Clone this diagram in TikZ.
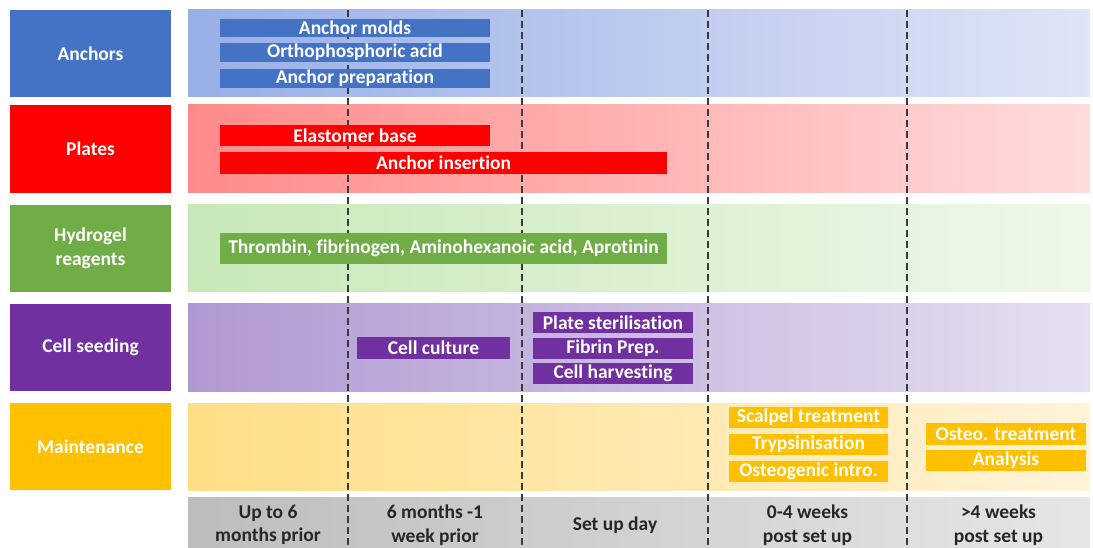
\documentclass[tikz,border=0pt]{standalone}
\usepackage{fontspec}
\setmainfont{Carlito}[Ligatures=NoCommon]

\definecolor{anchorblue}{HTML}{4472C4}
\definecolor{platered}{HTML}{FF0000}
\definecolor{gelgreen}{HTML}{70AD47}
\definecolor{seedpurple}{HTML}{7030A0}
\definecolor{maintyellow}{HTML}{FFC000}
\definecolor{labelgrey}{HTML}{262626}
\definecolor{dashgrey}{HTML}{3A3A3A}
% band shades, left and right
\definecolor{blueL}{HTML}{98AFE7}\definecolor{blueR}{HTML}{DFE5F6}
\definecolor{redL}{HTML}{FF8A8A}\definecolor{redR}{HTML}{FFDCDC}
\definecolor{greenL}{HTML}{C8E8B8}\definecolor{greenR}{HTML}{EEF8EA}
\definecolor{purpleL}{HTML}{B099D2}\definecolor{purpleR}{HTML}{E6DFF0}
\definecolor{yellowL}{HTML}{FFDE85}\definecolor{yellowR}{HTML}{FFF3D8}
\definecolor{greyL}{HTML}{BDBDBD}\definecolor{greyR}{HTML}{E6E6E6}

\begin{document}
\begin{tikzpicture}[x=1pt,y=-1pt,
    txt/.style={font=\bfseries\fontsize{19.5}{23.5}\selectfont},
    catbox/.style={txt, fill=#1, text=white, minimum width=161pt, minimum height=87pt, inner sep=0pt, align=center},
    band/.style={left color=#1L, right color=#1R, minimum width=902pt, minimum height=87pt, inner sep=0pt},
    taskbar/.style={txt, fill=#1, text=white, minimum height=20pt, inner sep=0pt},
    period/.style={txt, text=labelgrey, align=center},
    divider/.style={dashgrey, line width=1.2pt, dash pattern=on 7pt off 4pt}]
    \useasboundingbox (0,0) rectangle (1093,548);

    % categories
    \node[catbox=anchorblue] (anchors) at (90.5,53.5) {Anchors};
    \node[catbox=platered, minimum height=88pt] (plates) at (90.5,149) {Plates};
    \node[catbox=gelgreen] (hydrogel) at (90.5,248.5) {Hydrogel\\reagents};
    \node[catbox=seedpurple] (seeding) at (90.5,347.5) {Cell seeding};
    \node[catbox=maintyellow] (maintenance) at (90.5,446.5) {Maintenance};

    % background bands
    \node[band=blue] (anchorband) at (639,53.5) {};
    \node[band=red, minimum height=88pt] (plateband) at (639,149) {};
    \node[band=green] (gelband) at (639,248.5) {};
    \node[band=purple] (seedband) at (639,347.5) {};
    \node[band=yellow] (maintband) at (639,446.5) {};
    \node[band=grey, minimum height=51pt] (timeline) at (639,522.5) {};

    \foreach \x [count=\i] in {348,522,708,907} {
        \coordinate (top\i) at (\x,10);
        \coordinate (bot\i) at (\x,548);
        \draw[divider] (top\i) -- (bot\i);
    }

    % tasks
    \node[taskbar=anchorblue, minimum width=270pt, minimum height=18pt] (molds) at (355,28) {Anchor molds};
    \node[taskbar=anchorblue, minimum width=270pt, minimum height=19pt] (ortho) at (355,52.5) {Orthophosphoric acid};
    \node[taskbar=anchorblue, minimum width=270pt, minimum height=19pt] (prep) at (355,78.5) {Anchor preparation};
    \node[taskbar=platered, minimum width=270pt, minimum height=21pt] (elastomer) at (355,135.5) {Elastomer base};
    \node[taskbar=platered, minimum width=447pt, minimum height=22pt] (insertion) at (443.5,163) {Anchor insertion};
    \node[taskbar=gelgreen, minimum width=447pt, minimum height=31pt] (reagents) at (443.5,248.5) {Thrombin, fibrinogen, Aminohexanoic acid, Aprotinin};
    \node[taskbar=seedpurple, minimum width=153pt, minimum height=22pt] (culture) at (433.5,348) {Cell culture};
    \node[taskbar=seedpurple, minimum width=160pt, minimum height=21pt] (sterilise) at (613,322.5) {Plate sterilisation};
    \node[taskbar=seedpurple, minimum width=160pt, minimum height=21pt] (fibrin) at (613,348.5) {Fibrin Prep.};
    \node[taskbar=seedpurple, minimum width=160pt, minimum height=21pt] (harvest) at (613,373.5) {Cell harvesting};
    \node[taskbar=maintyellow, minimum width=159pt, minimum height=21pt] (scalpel) at (808.5,417.5) {Scalpel treatment};
    \node[taskbar=maintyellow, minimum width=159pt, minimum height=21pt] (trypsin) at (808.5,444.5) {Trypsinisation};
    \node[taskbar=maintyellow, minimum width=159pt, minimum height=21pt] (osteointro) at (808.5,471.5) {Osteogenic intro.};
    \node[taskbar=maintyellow, minimum width=160pt, minimum height=22pt] (osteotreat) at (1006,434) {Osteo. treatment};
    \node[taskbar=maintyellow, minimum width=160pt, minimum height=21pt] (analysis) at (1006,460.5) {Analysis};

    % time periods
    \node[period] (p1) at (268,525) {Up to 6\\months prior};
    \node[period] (p2) at (435,525) {6 months -1\\week prior};
    \node[period] (p3) at (615,525) {Set up day};
    \node[period] (p4) at (807.5,525) {0-4 weeks\\post set up};
    \node[period] (p5) at (998.5,525) {>4 weeks\\post set up};
\end{tikzpicture}
\end{document}
